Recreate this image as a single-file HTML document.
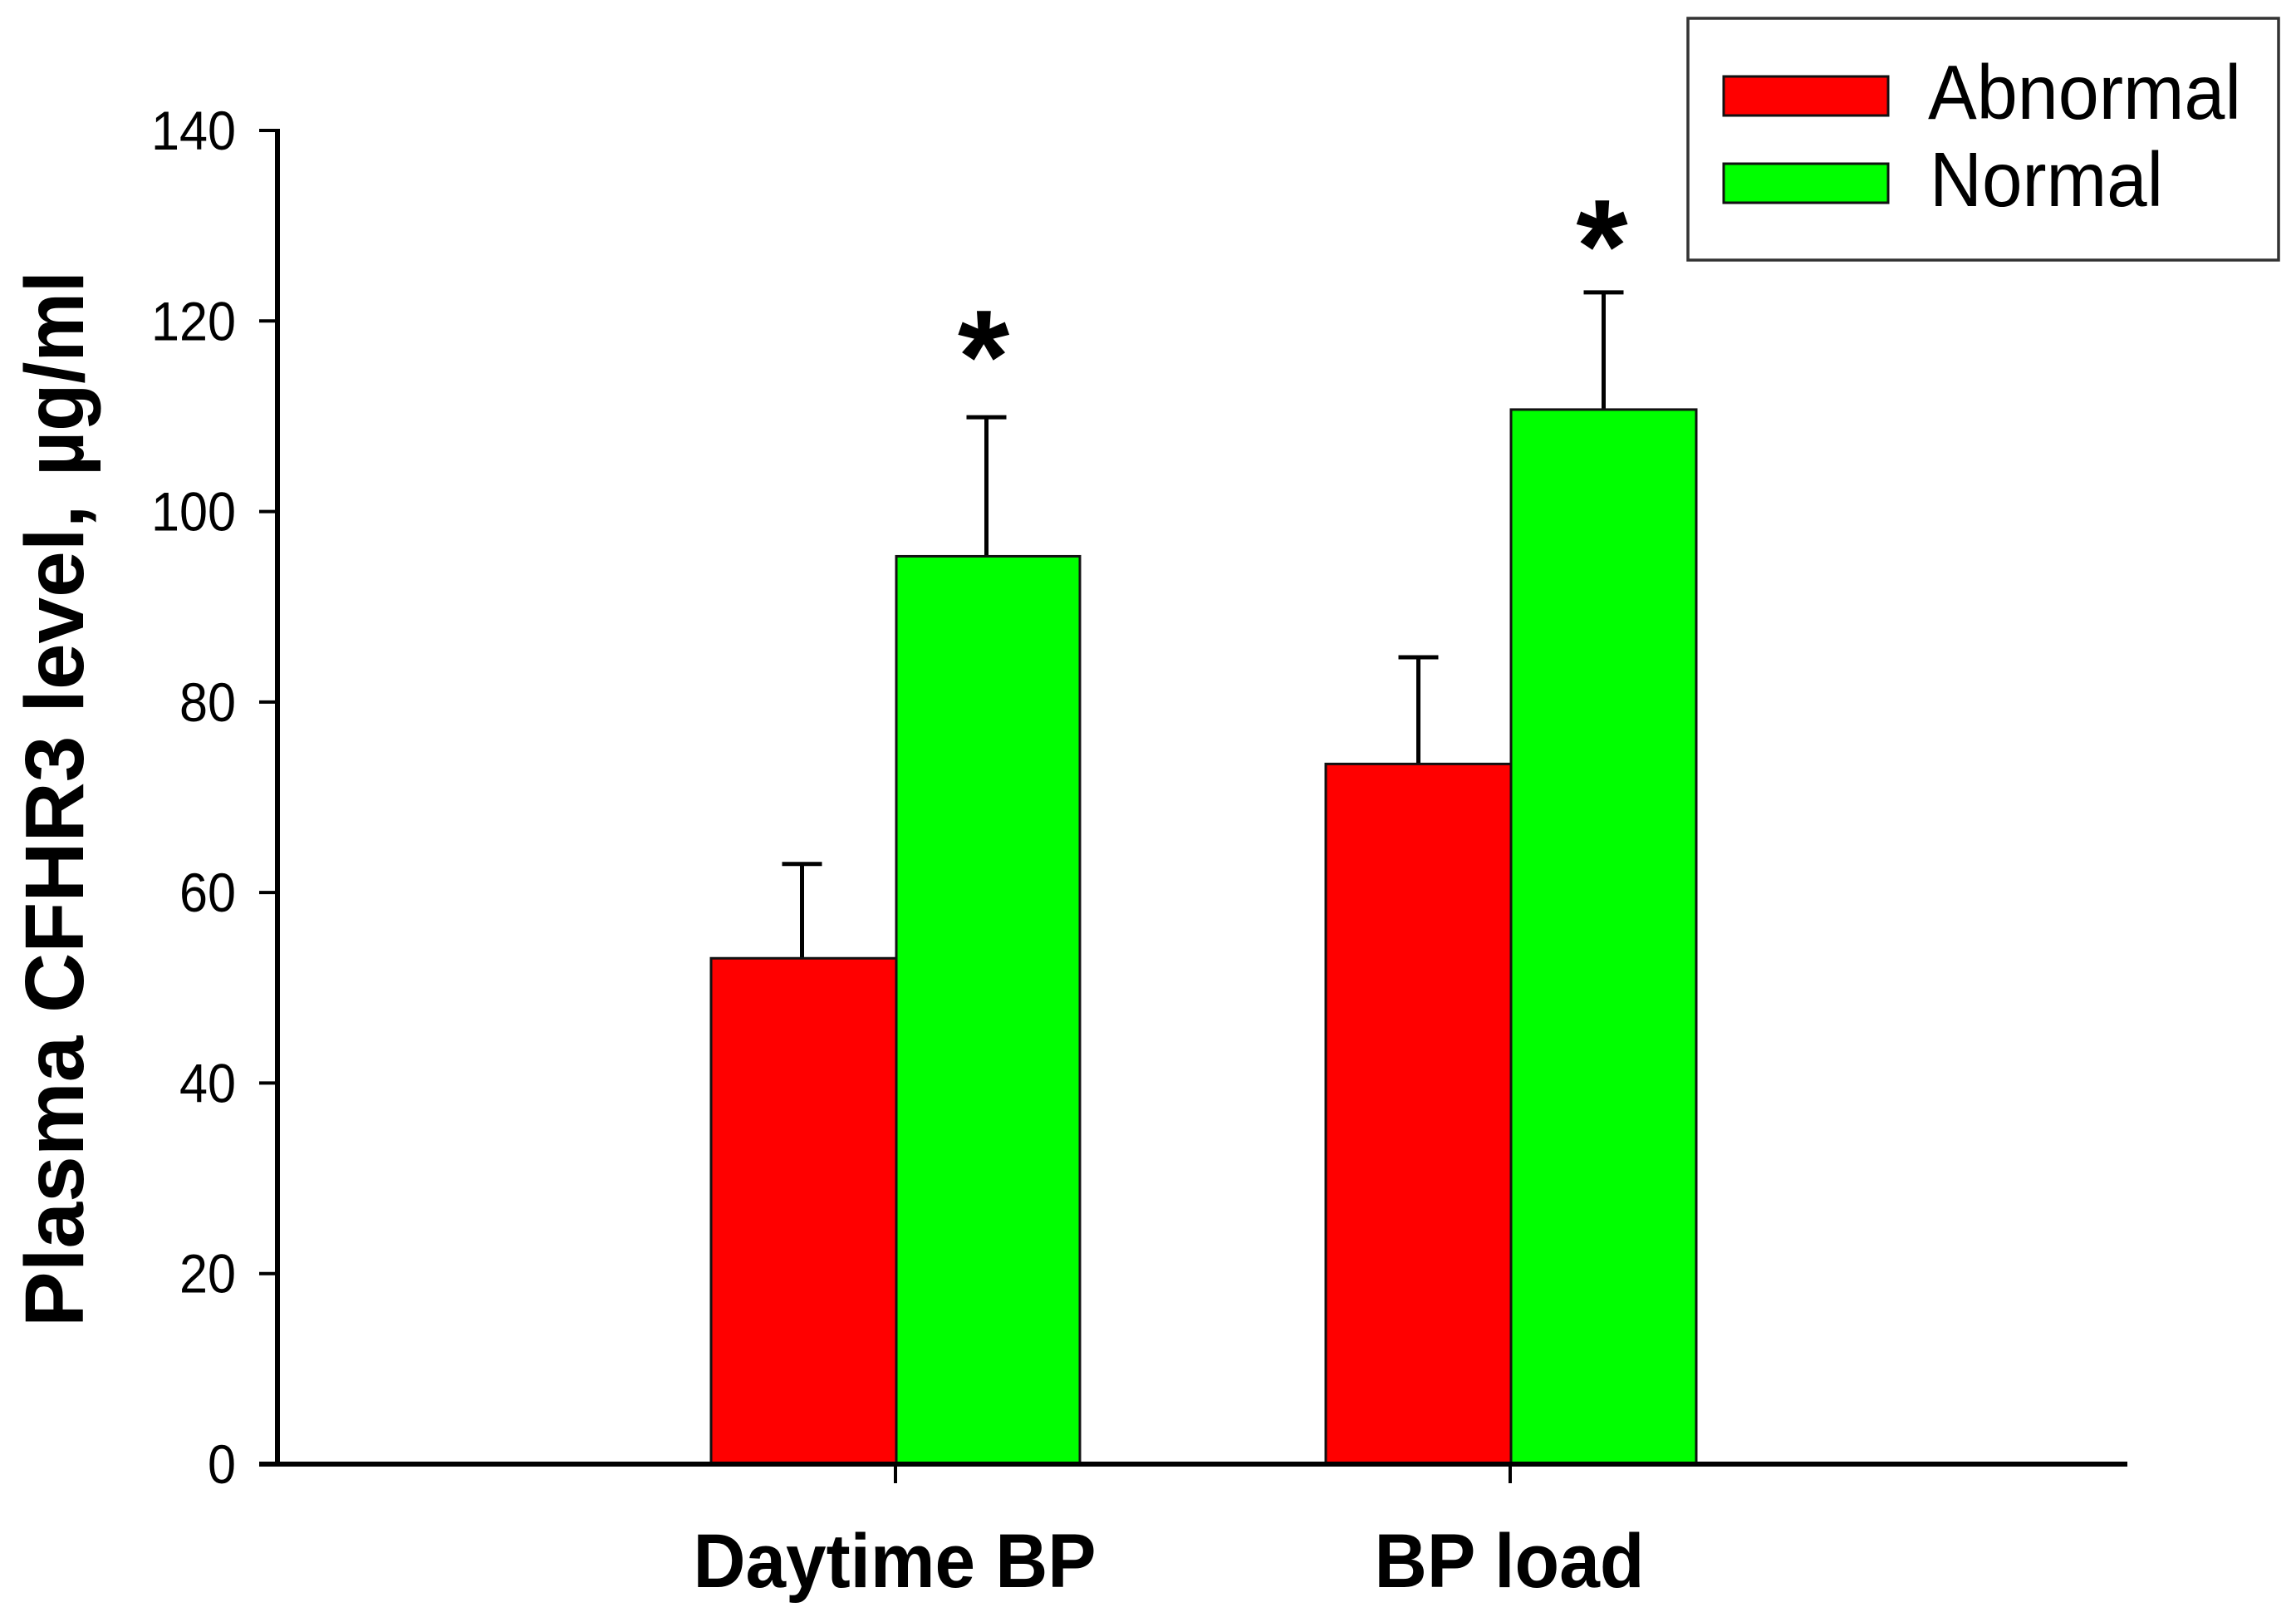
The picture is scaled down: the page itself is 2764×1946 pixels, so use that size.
<!DOCTYPE html>
<html>
<head>
<meta charset="utf-8">
<title>Plasma CFHR3 level</title>
<style>
html,body{margin:0;padding:0;background:#fff;width:2764px;height:1946px;overflow:hidden}
svg{display:block}
text{font-family:"Liberation Sans",sans-serif;fill:#000}
</style>
</head>
<body>
<svg id="chart" width="2764" height="1946" viewBox="0 0 2764 1946" xmlns="http://www.w3.org/2000/svg">
  <rect x="0" y="0" width="2764" height="1946" fill="#fff"/>
  <text transform="translate(100,1597) rotate(-90)" font-size="100" font-weight="700">Plasma CFHR3 level,<tspan x="1024" textLength="247" lengthAdjust="spacingAndGlyphs">µg/ml</tspan></text>
  <g id="marks"></g>
  <g id="axes"></g>
  <g>
    <rect x="2032" y="22" width="711" height="291" fill="#fff" stroke="#333" stroke-width="3.5"/>
    <g>
      <rect x="2075" y="92" width="198" height="47" fill="#ff0000" stroke="#111" stroke-width="3"/>
      <text x="2321" y="143" font-size="93" textLength="377" lengthAdjust="spacingAndGlyphs">Abnormal</text>
    </g>
    <g>
      <rect x="2075" y="197" width="198" height="47" fill="#00ff00" stroke="#111" stroke-width="3"/>
      <text x="2323" y="248" font-size="93" textLength="281" lengthAdjust="spacingAndGlyphs">Normal</text>
    </g>
  </g>
</svg>
<script>
const categories = ["Daytime BP", "BP load"];
const abnormalValues = [53.1, 73.5];
const normalValues = [95.3, 110.7];
const abnormalErrorTops = [63, 84.7];
const normalErrorTops = [109.9, 123];
const yTicks = [0, 20, 40, 60, 80, 100, 120, 140];
const starLevels = [119.3, 130.9];
const starCategoryOffsets = [0.142, 0.148];

const NS = "http://www.w3.org/2000/svg";
const marks = document.getElementById("marks");
const axes = document.getElementById("axes");

const yZero = 1762, yTop = 157, yMax = 140;
function yScale(v) { return yZero - (v / yMax) * (yZero - yTop); }
const catStart = 1079, catStep = 740;
function xScale(i) { return catStart + i * catStep; }
function widthFor(catIndex, isLeft) { return catIndex === 0 && !isLeft ? 221 : 223; }
function errShift(catIndex) { return catIndex === 0 ? -2 : 0; }

function make(tag, attrs, parent) {
  const el = document.createElementNS(NS, tag);
  for (const k in attrs) el.setAttribute(k, attrs[k]);
  parent.appendChild(el);
  return el;
}

function drawBar(cx, value, errTop, fill, seriesName, catIndex) {
  const isLeft = fill === "#ff0000";
  const w = widthFor(catIndex, isLeft);
  const left = isLeft ? cx - w : cx;
  const centre = left + w / 2 + errShift(catIndex);
  const err = make("line", {x1: centre, x2: centre, y1: yScale(value), y2: yScale(errTop), stroke: "#000", "stroke-width": 5}, marks);
  
  
  const cap = make("line", {x1: centre - 24, x2: centre + 24, y1: yScale(errTop), y2: yScale(errTop), stroke: "#000", "stroke-width": 5}, marks);
  
  
  const bar = make("rect", {x: left, y: yScale(value), width: w, height: yZero - yScale(value), fill: fill, stroke: "#111", "stroke-width": 3}, marks);
  
  
}

categories.forEach(function (cat, i) {
  const cx = xScale(i);
  drawBar(cx, abnormalValues[i], abnormalErrorTops[i], "#ff0000", "abnormal", i);
  drawBar(cx, normalValues[i], normalErrorTops[i], "#00ff00", "normal", i);

  const star = make("text", {x: xScale(i + starCategoryOffsets[i]), y: yScale(starLevels[i]) + 90, "font-size": 160, "font-weight": 700, "text-anchor": "middle"}, marks);
  star.textContent = "*";
  
  

  const tick = make("line", {x1: cx - 1, x2: cx - 1, y1: yZero, y2: 1785, stroke: "#000", "stroke-width": 4}, axes);
  
  

  const label = make("text", {x: cx - 2, y: 1910, "font-size": 92, "font-weight": 700, "text-anchor": "middle"}, axes);
  label.textContent = cat;
  label.setAttribute('textLength', i === 0 ? 485 : 325);
  label.setAttribute('lengthAdjust', 'spacingAndGlyphs');
  
  
});

yTicks.forEach(function (t) {
  const y = yScale(t);
  const tick = make("line", {x1: 312, x2: 335, y1: y, y2: y, stroke: "#000", "stroke-width": 4}, axes);
  
  
  const text = String(t);
  const label = make("text", {x: 284, y: y + 23, "font-size": 66, "text-anchor": "end"}, axes);
  label.textContent = text;
  label.setAttribute('textLength', text.length * 34);
  label.setAttribute('lengthAdjust', 'spacingAndGlyphs');
  
  
});

const yAxis = make("line", {x1: 334, x2: 334, y1: yTop - 2, y2: yZero, stroke: "#000", "stroke-width": 6}, axes);


const xAxis = make("line", {x1: 312, x2: 2561, y1: yZero, y2: yZero, stroke: "#000", "stroke-width": 6}, axes);


</script>
</body>
</html>
